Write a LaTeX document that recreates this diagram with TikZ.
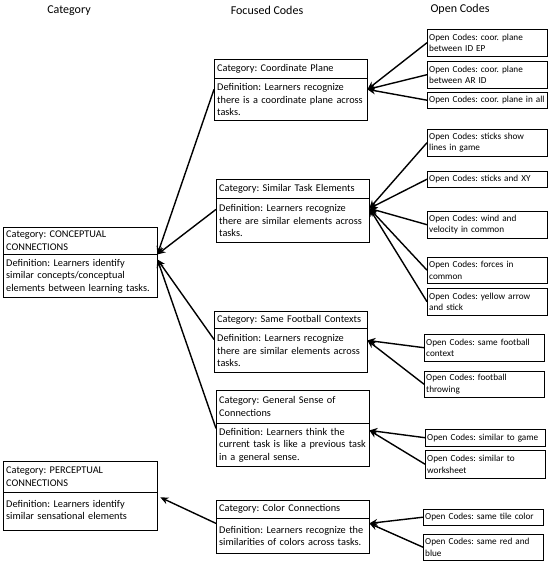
\documentclass[tikz,border=0pt]{standalone}
\usepackage{fontspec}
\setmainfont{Carlito}
\usetikzlibrary{arrows.meta,positioning}
\frenchspacing

\begin{document}
\begin{tikzpicture}[x=1pt,y=-1pt,
        colhead/.style={font=\fontsize{12}{14}\selectfont},
        catbox/.style={draw,align=left,inner xsep=3pt,inner ysep=2pt,
          font=\fontsize{10.3}{12.5}\selectfont},
        codebox/.style={draw,anchor=north west,align=left,inner xsep=2pt,
          inner ysep=2pt,text width=116pt,font=\fontsize{9.2}{11.3}\selectfont},
        link/.style={-{Stealth[length=8pt,width=7pt]},line width=1.4pt}]

  \useasboundingbox (0,0) rectangle (550,565);

  % column titles
  \node[colhead] (t_cat) at (69,11) {Category};
  \node[colhead] (t_foc) at (267,10) {Focused Codes};
  \node[colhead] (t_open) at (460,9) {Open Codes};

  % categories
  \node[catbox,anchor=north west,text width=148pt,minimum height=27pt] (con_h) at (3,227)
       {Category: CONCEPTUAL\\CONNECTIONS};
  \node[catbox,text width=148pt,minimum height=43pt] (con_d) [below right=0pt and 0pt of con_h.south west]
       {Definition: Learners identify\\similar concepts/conceptual\\elements between learning tasks.};
  \node[catbox,anchor=north west,text width=148pt,minimum height=31pt] (per_h) at (3,461)
       {Category: PERCEPTUAL\\CONNECTIONS};
  \node[catbox,text width=148pt,minimum height=38pt,text depth=16pt] (per_d) [below right=0pt and 0pt of per_h.south west]
       {Definition: Learners identify\\similar sensational elements};

  % focused codes
  \node[catbox,anchor=north west,text width=147pt,minimum height=19pt] (cp_h) at (214,59)
       {Category: Coordinate Plane};
  \node[catbox,text width=147pt,minimum height=42pt] (cp_d) [below right=0pt and 0pt of cp_h.south west]
       {Definition: Learners recognize\\there is a coordinate plane across\\tasks.};
  \node[catbox,anchor=north west,text width=147pt,minimum height=19pt] (ste_h) at (216,179)
       {Category: Similar Task Elements};
  \node[catbox,text width=147pt,minimum height=44pt] (ste_d) [below right=0pt and 0pt of ste_h.south west]
       {Definition: Learners recognize\\there are similar elements across\\tasks.};
  \node[catbox,anchor=north west,text width=147pt,minimum height=17pt] (sfc_h) at (214,311)
       {Category: Same Football Contexts};
  \node[catbox,text width=147pt,minimum height=44pt] (sfc_d) [below right=0pt and 0pt of sfc_h.south west]
       {Definition: Learners recognize\\there are similar elements across\\tasks.};
  \node[catbox,anchor=north west,text width=147pt,minimum height=33pt] (gsc_h) at (216,390)
       {Category: General Sense of\\Connections};
  \node[catbox,text width=147pt,minimum height=43pt] (gsc_d) [below right=0pt and 0pt of gsc_h.south west]
       {Definition: Learners think the\\current task is like a previous task\\in a general sense.};
  \node[catbox,anchor=north west,text width=147pt,minimum height=18pt] (cc_h) at (216,500)
       {Category: Color Connections};
  \node[catbox,text width=147pt,minimum height=35pt] (cc_d) [below right=0pt and 0pt of cc_h.south west]
       {Definition: Learners recognize the\\similarities of colors across tasks.};

  % open codes
  \node[codebox,minimum height=27pt] (oc_1) at (427,29) {Open Codes: coor. plane\\between ID EP};
  \node[codebox,minimum height=27pt] (oc_2) at (427,61) {Open Codes: coor. plane\\between AR ID};
  \node[codebox,minimum height=16pt] (oc_3) at (427,92) {Open Codes: coor. plane in all};
  \node[codebox,minimum height=27pt] (oc_4) at (427,129) {Open Codes: sticks show\\lines in game};
  \node[codebox,minimum height=16pt] (oc_5) at (427,171) {Open Codes: sticks and XY};
  \node[codebox,minimum height=27pt] (oc_6) at (427,211) {Open Codes: wind and\\velocity in common};
  \node[codebox,minimum height=26pt] (oc_7) at (427,257) {Open Codes: forces in\\common};
  \node[codebox,minimum height=27pt] (oc_8) at (427,288) {Open Codes: yellow arrow\\and stick};
  \node[codebox,minimum height=27pt] (oc_9) at (424,334) {Open Codes: same football\\context};
  \node[codebox,minimum height=26pt] (oc_10) at (424,371) {Open Codes: football\\throwing};
  \node[codebox,minimum height=17pt] (oc_11) at (425,429) {Open Codes: similar to game};
  \node[codebox,minimum height=28pt] (oc_12) at (425,450) {Open Codes: similar to\\worksheet};
  \node[codebox,minimum height=16pt] (oc_13) at (423,509) {Open Codes: same tile color};
  \node[codebox,minimum height=26pt] (oc_14) at (423,534) {Open Codes: same red and\\blue};

  % focused codes -> categories
  \draw[link] ([yshift=-11pt]cp_d.north west) -- (con_d.north east);
  \draw[link] ([yshift=-11pt]ste_d.north west) -- (con_d.north east);
  \draw[link] ([yshift=-11pt]sfc_d.north west) -- ([yshift=-5pt]con_d.north east);
  \draw[link] ([yshift=-5pt]gsc_d.north west) -- ([yshift=-5pt]con_d.north east);
  \draw[link] ([yshift=-5pt]cc_d.north west) -- ([xshift=3pt,yshift=-5pt]per_d.north east);

  % open codes -> focused codes
  \foreach \oc in {1,2,3}
    \draw[link] (oc_\oc.west) -- ([yshift=-11pt]cp_d.north east);
  \foreach \oc in {4,...,8}
    \draw[link] (oc_\oc.west) -- ([yshift=-10pt]ste_d.north east);
  \foreach \oc in {9,10}
    \draw[link] (oc_\oc.west) -- ([yshift=-12pt]sfc_d.north east);
  \foreach \oc in {11,12}
    \draw[link] (oc_\oc.west) -- ([yshift=-7pt]gsc_d.north east);
  \foreach \oc in {13,14}
    \draw[link] (oc_\oc.west) -- ([yshift=-5pt]cc_d.north east);

\end{tikzpicture}
\end{document}
